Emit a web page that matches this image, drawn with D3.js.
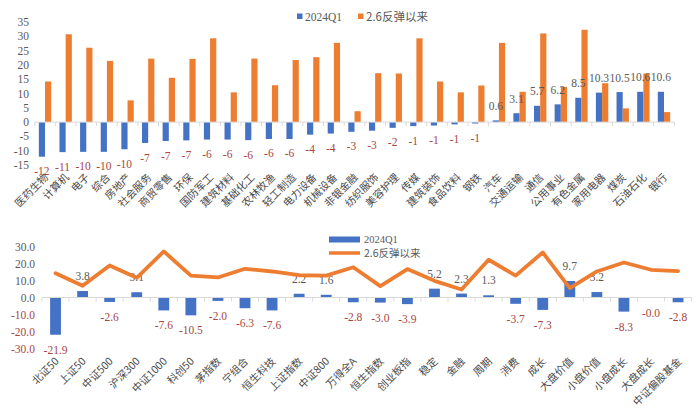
<!DOCTYPE html>
<html><head><meta charset="utf-8">
<script src="https://cdn.jsdelivr.net/npm/d3@7"></script>
<style>
html,body{margin:0;padding:0;background:#fff;}
svg{display:block;}
text{font-family:"Liberation Serif","Noto Sans CJK SC",serif;}
.cjk{font-family:"Noto Sans CJK SC","Liberation Serif",sans-serif;}
</style></head>
<body>
<svg id="c" width="700" height="418"></svg>
<script>
// ---------- Top chart data ----------
const industries = ["医药生物","计算机","电子","综合","房地产","社会服务","商贸零售","环保","国防军工","建筑材料","基础化工","农林牧渔","轻工制造","电力设备","机械设备","非银金融","纺织服饰","美容护理","传媒","建筑装饰","食品饮料","钢铁","汽车","交通运输","通信","公用事业","有色金属","家用电器","煤炭","石油石化","银行"];
const q1Values = [-12.1,-10.5,-10.4,-10.4,-9.5,-7.3,-6.6,-6.4,-6.1,-6.1,-6.3,-5.9,-5.9,-4.4,-4.0,-3.4,-3.0,-2.0,-1.4,-1.2,-0.8,-0.5,0.6,3.1,5.7,6.2,8.5,10.3,10.5,10.6,10.6];
const q1Labels = ["-12","-11","-10","-10","-10","-7","-7","-7","-6","-6","-6","-6","-6","-4","-4","-3","-3","-2","-1","-1","-1","-1","0.6","3.1","5.7","6.2","8.5","10.3","10.5","10.6","10.6"];
const reboundValues = [14.2,30.7,26.0,21.4,7.6,22.2,15.5,22.1,29.3,10.4,22.2,12.9,21.7,22.7,27.7,3.8,17.1,17.0,29.3,14.2,10.4,12.8,27.7,10.6,31.0,12.3,32.3,13.6,4.8,17.0,3.5];
const topTicks = [-15,-10,-5,0,5,10,15,20,25,30,35];

// ---------- Bottom chart data ----------
const indices = ["北证50","上证50","中证500","沪深300","中证1000","科创50","茅指数","宁组合","恒生科技","上证指数","中证800","万得全A","恒生指数","创业板指","稳定","金融","周期","消费","成长","大盘价值","小盘价值","小盘成长","大盘成长","中证偏股基金"];
const idxQ1 = [-21.9,3.8,-2.6,3.1,-7.6,-10.5,-2.0,-6.3,-7.6,2.2,1.6,-2.8,-3.0,-3.9,5.2,2.3,1.3,-3.7,-7.3,9.7,3.2,-8.3,-0.0,-2.8];
const idxQ1Labels = ["-21.9","3.8","-2.6","3.1","-7.6","-10.5","-2.0","-6.3","-7.6","2.2","1.6","-2.8","-3.0","-3.9","5.2","2.3","1.3","-3.7","-7.3","9.7","3.2","-8.3","-0.0","-2.8"];
const idxRebound = [14.3,6.9,18.8,11.6,27.1,12.9,11.8,16.9,15.3,13.1,12.9,17.8,6.7,16.7,9.8,4.7,22.2,12.9,26.5,5.5,15.3,20.6,16.3,15.5];
const bottomTicks = [-30,-20,-10,0,10,20,30];

const seriesNames = ["2024Q1","2.6反弹以来"];
const BLUE = "#4472C4", ORANGE = "#ED7D31", GRAY = "#595959", RED = "#A9463F", AXIS = "#d9d9d9";

const svg = d3.select("#c");

// ================= TOP =================
const x1 = d3.scaleBand().domain(industries).range([34.7, 674.3]);
const y1 = d3.scaleLinear().domain([-15, 35]).range([165, 22]);
const bw1 = x1.bandwidth()*0.3;
const g1 = svg.append("g");

g1.selectAll("text.yt").data(topTicks).join("text")
  .attr("x", 29).attr("y", d => y1(d)).attr("dy", "0.35em")
  .attr("text-anchor", "end").attr("font-size", 11.5).attr("fill", GRAY)
  .text(d => d);

g1.selectAll("rect.q1").data(industries).join("rect")
  .attr("x", d => x1(d) + x1.bandwidth()/2 - bw1)
  .attr("width", bw1)
  .attr("y", (d,i) => Math.min(y1(0), y1(q1Values[i])))
  .attr("height", (d,i) => Math.abs(y1(q1Values[i]) - y1(0)))
  .attr("fill", BLUE);
g1.selectAll("rect.rb").data(industries).join("rect")
  .attr("x", d => x1(d) + x1.bandwidth()/2)
  .attr("width", bw1)
  .attr("y", (d,i) => Math.min(y1(0), y1(reboundValues[i])))
  .attr("height", (d,i) => Math.abs(y1(reboundValues[i]) - y1(0)))
  .attr("fill", ORANGE);

g1.append("line").attr("x1", x1.range()[0]).attr("x2", x1.range()[1])
  .attr("y1", y1(0)).attr("y2", y1(0)).attr("stroke", AXIS).attr("stroke-width", 1);
g1.selectAll("line.tk").data(industries.concat(["_end"])).join("line")
  .attr("x1", (d,i) => x1.range()[0] + i*x1.step()).attr("x2", (d,i) => x1.range()[0] + i*x1.step())
  .attr("y1", y1(0)).attr("y2", y1(0)+4).attr("stroke", AXIS);

g1.selectAll("text.vl").data(industries).join("text")
  .attr("x", d => x1(d) + x1.bandwidth()/2 - bw1/2)
  .attr("y", (d,i) => q1Values[i] < 0 ? y1(q1Values[i]) + 14.5 : y1(q1Values[i]) - 14.5)
  .attr("dy", "0.35em").attr("text-anchor", "middle").attr("font-size", 11.5)
  .attr("fill", (d,i) => q1Values[i] < 0 ? RED : GRAY)
  .text((d,i) => q1Labels[i]);

g1.selectAll("text.xl").data(industries).join("text")
  .attr("class", "cjk")
  .attr("transform", d => `translate(${x1(d) + x1.bandwidth()/2 + 4},${178}) rotate(-45)`)
  .attr("text-anchor", "end").attr("font-size", 10.5).attr("fill", "#4a4a4a")
  .text(d => d);

const lg1 = svg.append("g");
lg1.append("rect").attr("x", 297).attr("y", 13.5).attr("width", 5.5).attr("height", 5.5).attr("fill", BLUE);
lg1.append("text").attr("x", 305).attr("y", 16.5).attr("dy", "0.35em").attr("font-size", 11.5).attr("fill", GRAY).text(seriesNames[0]);
lg1.append("rect").attr("x", 358).attr("y", 13.5).attr("width", 5.5).attr("height", 5.5).attr("fill", ORANGE);
lg1.append("text").attr("class","cjk").attr("x", 366).attr("y", 16.5).attr("dy", "0.35em").attr("font-size", 11.5).attr("fill", GRAY).text(seriesNames[1]);

// ================= BOTTOM =================
const x2 = d3.scaleBand().domain(indices).range([42, 691.6]);
const y2 = d3.scaleLinear().domain([-30, 30]).range([348.5, 246.5]);
const bw2 = x2.bandwidth()*0.4;
const g2 = svg.append("g");

g2.selectAll("text.yt").data(bottomTicks).join("text")
  .attr("x", 35).attr("y", d => y2(d)).attr("dy", "0.35em")
  .attr("text-anchor", "end").attr("font-size", 11.5)
  .attr("fill", d => d < 0 ? RED : GRAY)
  .text(d => d3.format(".1f")(d).replace("−","-"));

g2.selectAll("rect.q1").data(indices).join("rect")
  .attr("x", d => x2(d) + x2.bandwidth()/2 - bw2/2)
  .attr("width", bw2)
  .attr("y", (d,i) => Math.min(y2(0), y2(idxQ1[i])))
  .attr("height", (d,i) => Math.abs(y2(idxQ1[i]) - y2(0)))
  .attr("fill", BLUE);

g2.append("line").attr("x1", x2.range()[0]).attr("x2", x2.range()[1])
  .attr("y1", y2(0)).attr("y2", y2(0)).attr("stroke", AXIS).attr("stroke-width", 1);
g2.selectAll("line.tk").data(indices.concat(["_end"])).join("line")
  .attr("x1", (d,i) => x2.range()[0] + i*x2.step()).attr("x2", (d,i) => x2.range()[0] + i*x2.step())
  .attr("y1", y2(0)).attr("y2", y2(0)+4).attr("stroke", AXIS);

g2.selectAll("text.vl").data(indices).join("text")
  .attr("x", d => x2(d) + x2.bandwidth()/2)
  .attr("y", (d,i) => (idxQ1Labels[i].startsWith("-")) ? y2(Math.min(idxQ1[i],0)) + 15 : y2(idxQ1[i]) - 15)
  .attr("dy", "0.35em").attr("text-anchor", "middle").attr("font-size", 11.5)
  .attr("fill", (d,i) => idxQ1Labels[i].startsWith("-") ? RED : GRAY)
  .text((d,i) => idxQ1Labels[i]);

const line = d3.line().x((d,i) => x2(indices[i]) + x2.bandwidth()/2).y(d => y2(d));
g2.append("path").datum(idxRebound).attr("d", line)
  .attr("fill", "none").attr("stroke", ORANGE).attr("stroke-width", 3.8)
  .attr("stroke-linejoin", "round").attr("stroke-linecap", "round");

g2.selectAll("text.xl").data(indices).join("text")
  .attr("class", "cjk")
  .attr("transform", d => `translate(${x2(d) + x2.bandwidth()/2 + 4},${362}) rotate(-45)`)
  .attr("text-anchor", "end").attr("font-size", 10.5).attr("fill", "#4a4a4a")
  .text(d => d);

const lg2 = svg.append("g");
lg2.append("rect").attr("x", 329).attr("y", 236.5).attr("width", 31).attr("height", 6).attr("fill", BLUE);
lg2.append("text").attr("x", 364).attr("y", 239.5).attr("dy", "0.35em").attr("font-size", 10.5).attr("fill", GRAY).text(seriesNames[0]);
lg2.append("line").attr("x1", 329).attr("x2", 360).attr("y1", 253).attr("y2", 253).attr("stroke", ORANGE).attr("stroke-width", 3.5);
lg2.append("text").attr("class","cjk").attr("x", 364).attr("y", 253.5).attr("dy", "0.35em").attr("font-size", 10.5).attr("fill", GRAY).text(seriesNames[1]);
</script>
</body></html>
